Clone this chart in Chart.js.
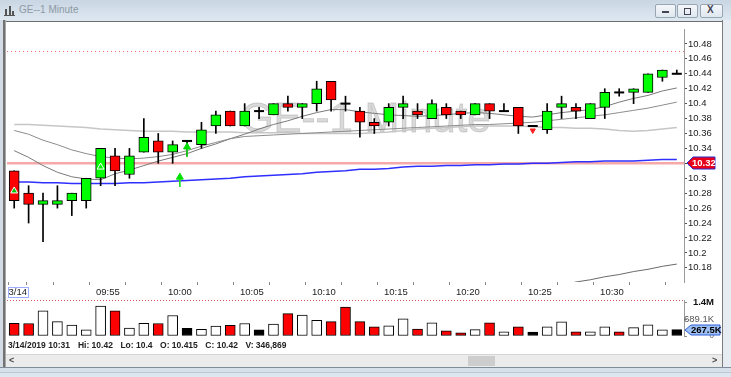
<!DOCTYPE html>
<html>
<head>
<meta charset="utf-8">
<script src="https://cdn.jsdelivr.net/npm/chart.js@4.4.1/dist/chart.umd.min.js"></script>
<style>
  body { margin: 0; background: #fff; font-family: "Liberation Sans", Arial, sans-serif; }
  #win { position: relative; width: 731px; height: 377px; overflow: hidden; background: #dde5ee; }
  #title { position: absolute; left: 0; top: 0; width: 731px; height: 20px; background: linear-gradient(#c9d6e3, #dde7f0); }
  #title span { position: absolute; left: 19px; top: 4px; font-size: 10px; color: #8d99a5; }
  #ico { position: absolute; left: 4px; top: 5px; width: 11px; height: 10px; border-bottom: 1px solid #555; }
  #ico i { position: absolute; bottom: 0; width: 2px; background: #555; }
  .btn { position: absolute; top: 4px; width: 19px; height: 12px; border: 1px solid #98a6b4; border-radius: 2px; background: linear-gradient(#f4f7fa, #dfe7ef); }
  .btn b { position: absolute; }
  #lb { position: absolute; left: 0; top: 20px; width: 6px; height: 357px; background: linear-gradient(to right, #d3dce6 0 3px, #737373 3px 5px, #a8a8a8 5px 6px); }
  #panel { position: absolute; left: 6px; top: 21px; width: 716px; height: 333px; background: #fff; border-top: 1px solid #6f6f6f; }
  #rb { position: absolute; left: 722px; top: 20px; width: 9px; height: 357px; background: linear-gradient(to right, #7a7a7a 0 1px, #e6ecf2 1px); }
  #status { position: absolute; left: 8px; top: 340px; font-size: 8.5px; font-weight: bold; color: #222; white-space: nowrap; }
  #status span { margin-right: 7.5px; }
  #scroll { position: absolute; left: 6px; top: 354px; width: 716px; height: 12px; background: #ebebeb; border-top: 1px solid #d4d4d4; }
  #thumb { position: absolute; left: 462px; top: 1px; width: 27px; height: 10px; background: #cdcdcd; }
  .arr { position: absolute; top: 0; font-size: 9px; font-weight: bold; color: #444; }
  #bf { position: absolute; left: 0; top: 367px; width: 731px; height: 10px; background: linear-gradient(#7f8d9b 0 1px, #d7e0ea 1px 5px, #b9c6d3 5px 6px, #dde5ee 6px); }
  canvas { position: absolute; left: 0; }
</style>
</head>
<body>
<div id="win">
  <div id="title">
    <div id="ico"><i style="left:1px;height:6px"></i><i style="left:5px;height:9px"></i><i style="left:8px;height:4px"></i></div>
    <span>GE--1 Minute</span>
    <div class="btn" style="left:655px"><b style="left:6px;top:6px;width:7px;height:2px;background:#445"></b></div>
    <div class="btn" style="left:677px"><b style="left:6px;top:3px;width:5px;height:5px;border:1px solid #445"></b></div>
    <div class="btn" style="left:700px;width:21px"><b style="left:6px;top:-1px;font-size:10px;color:#445">X</b></div>
  </div>
  <div id="lb"></div>
  <div id="panel"></div>
  <div id="rb"></div>
  <canvas id="price" width="731" height="278" style="top:22px"></canvas>
  <canvas id="vol" width="731" height="46" style="top:294px"></canvas>
  <div id="status"></div>
  <div id="scroll"><div id="thumb"></div><span class="arr" style="left:3px">&lt;</span><span class="arr" style="left:706px">&gt;</span></div>
  <div id="bf"></div>
</div>
<script>
const FONT = '"Liberation Sans", Arial, sans-serif';
Chart.defaults.font.family = FONT;

// one-minute bars, 3/14/2019
const times = ['09:48','09:49','09:50','09:51','09:52','09:53','09:54','09:55','09:56','09:57','09:58','09:59',
  '10:00','10:01','10:02','10:03','10:04','10:05','10:06','10:07','10:08','10:09','10:10','10:11','10:12','10:13',
  '10:14','10:15','10:16','10:17','10:18','10:19','10:20','10:21','10:22','10:23','10:24','10:25','10:26','10:27',
  '10:28','10:29','10:30','10:31','10:32','10:33','10:34'];
const opens = [10.31,10.28,10.265,10.265,10.27,10.27,10.30,10.33,10.305,10.335,10.35,10.335,10.35,10.345,10.37,10.39,
  10.37,10.39,10.385,10.40,10.395,10.40,10.43,10.40,10.39,10.375,10.375,10.395,10.39,10.38,10.395,10.39,10.385,10.40,
  10.39,10.395,10.37,10.365,10.395,10.395,10.38,10.395,10.415,10.415,10.415,10.435,10.44];
const highs = [10.31,10.29,10.28,10.29,10.28,10.30,10.34,10.34,10.34,10.38,10.36,10.35,10.35,10.375,10.39,10.39,
  10.40,10.395,10.40,10.41,10.40,10.43,10.43,10.41,10.395,10.38,10.40,10.41,10.40,10.405,10.40,10.39,10.40,10.40,
  10.40,10.395,10.37,10.40,10.41,10.40,10.40,10.42,10.42,10.42,10.44,10.445,10.445];
const lows = [10.26,10.24,10.215,10.26,10.25,10.26,10.29,10.29,10.30,10.335,10.32,10.32,10.33,10.34,10.36,10.37,
  10.37,10.38,10.385,10.39,10.38,10.39,10.39,10.39,10.355,10.36,10.37,10.38,10.38,10.38,10.38,10.38,10.385,10.38,
  10.39,10.36,10.37,10.36,10.38,10.38,10.38,10.38,10.41,10.40,10.415,10.43,10.44];
const closes = [10.27,10.265,10.27,10.27,10.28,10.30,10.34,10.31,10.33,10.355,10.335,10.345,10.35,10.365,10.385,10.37,
  10.39,10.39,10.40,10.395,10.40,10.42,10.405,10.40,10.375,10.37,10.395,10.40,10.385,10.40,10.385,10.385,10.40,10.39,
  10.39,10.37,10.37,10.39,10.40,10.39,10.40,10.415,10.415,10.42,10.44,10.445,10.44];
const volumes = [533000,520000,1050000,600000,452000,252000,1250000,1050000,332000,533000,520000,853000,320000,280000,
  413000,440000,520000,252000,493000,933000,867000,653000,600000,1210000,600000,387000,427000,720000,293000,547000,
  213000,133000,267000,547000,173000,387000,160000,387000,587000,173000,173000,387000,173000,346869,467000,253000,267500];
const volDir = ['down','down','up','up','up','up','up','down','up','up','down','up','flat','up','up','down','up','flat',
  'up','down','up','up','down','down','down','down','up','up','down','up','down','down','up','down','up','down','flat',
  'up','up','down','up','up','down','up','up','up','flat'];

// indicator lines
const maFast = [10.337,10.328,10.317,10.308,10.302,10.299,10.298,10.306,10.311,10.317,10.323,10.328,10.333,10.340,
  10.346,10.353,10.359,10.366,10.372,10.377,10.383,10.388,10.392,10.392,10.389,10.387,10.385,10.384,10.383,10.384,
  10.385,10.387,10.388,10.387,10.385,10.383,10.382,10.385,10.388,10.390,10.392,10.396,10.402,10.407,10.411,10.417,10.421];
const maMid = [10.364,10.359,10.351,10.345,10.338,10.333,10.329,10.327,10.326,10.327,10.329,10.332,10.337,10.343,
  10.348,10.353,10.356,10.357,10.358,10.359,10.360,10.361,10.362,10.363,10.364,10.365,10.366,10.367,10.368,10.369,
  10.370,10.371,10.372,10.372,10.373,10.374,10.375,10.377,10.379,10.381,10.383,10.385,10.388,10.391,10.394,10.398,10.402];
const maSlow = [10.372,10.372,10.371,10.370,10.369,10.368,10.366,10.365,10.364,10.363,10.363,10.363,10.362,10.362,
  10.362,10.362,10.361,10.361,10.361,10.361,10.360,10.360,10.360,10.360,10.360,10.361,10.362,10.364,10.366,10.367,
  10.368,10.369,10.370,10.370,10.370,10.370,10.369,10.368,10.368,10.367,10.367,10.366,10.364,10.363,10.364,10.366,10.368];
const lowBand = Array(38).fill(null).concat([10.157,10.161,10.164,10.168,10.171,10.175,10.178,10.182,10.185]);
const vwap = [10.295,10.295,10.294,10.294,10.293,10.293,10.293,10.293,10.294,10.294,10.295,10.296,10.297,10.298,
  10.299,10.300,10.302,10.303,10.304,10.305,10.306,10.308,10.309,10.310,10.312,10.312,10.313,10.315,10.316,10.316,
  10.317,10.317,10.318,10.318,10.319,10.319,10.320,10.320,10.321,10.322,10.322,10.323,10.323,10.323,10.324,10.325,10.325];
const refLevel = 10.32;
const alertLevel = 10.47;

// signal markers
const sigX = [0, 6, 11.5, 12, 36];
const sigY = [10.283, 10.315, 10.3015, 10.342, 10.364];
const sigKind = ['buy', 'hollow', 'arrow', 'arrow', 'sell'];
const stemLow = [null, null, 10.2887, 10.329, null];

// axes
const priceTicks = [10.18,10.2,10.22,10.24,10.26,10.28,10.3,10.32,10.34,10.36,10.38,10.4,10.42,10.44,10.46,10.48];
const timeTickLabels = ['09:55','10:00','10:05','10:10','10:15','10:20','10:25','10:30'];
const dateLabel = '3/14';
const volTicks = [0, 689100, 1400000];
const volTickLabels = ['0', '689.1K', '1.4M'];

const idx = times.map((t, i) => i);
const pts = arr => arr.map((v, i) => ({x: i, y: v}));
const timeTickPos = timeTickLabels.map(t => times.indexOf(t) - 0.5);
const xTicks = [{value: 0.25, label: dateLabel}];
for (let v = 1.5; v < 46.5; v += 2.5) {
  const k = timeTickPos.indexOf(v);
  xTicks.push({value: v, label: k >= 0 ? timeTickLabels[k] : ''});
}

const GREEN = '#00ff00', RED = '#ff0000';
const wickData = idx.map(i => ({x: i, y: [lows[i], highs[i]]}));
const bodyData = idx.filter(i => opens[i] !== closes[i])
  .map(i => ({x: i, y: [Math.min(opens[i], closes[i]), Math.max(opens[i], closes[i])]}));
const dojiData = idx.filter(i => opens[i] === closes[i]).map(i => ({x: i, y: opens[i]}));
const stemData = sigX.map((x, k) => stemLow[k] === null ? null : {x: x, y: [stemLow[k], sigY[k]]}).filter(d => d);
const sigData = sigX.map((x, k) => ({x: x, y: sigY[k]}));

const xScale = {
  type: 'linear', min: -0.5, max: 46.5, offset: false
};

const priceDecor = {
  id: 'priceDecor',
  beforeDatasetsDraw(chart) {
    const {ctx, chartArea: a, scales: {y}} = chart;
    ctx.save();
    ctx.font = '42px ' + FONT;
    ctx.textAlign = 'center';
    ctx.fillStyle = 'rgba(205,205,205,0.75)';
    ctx.strokeStyle = 'rgba(150,150,150,0.4)';
    ctx.lineWidth = 0.8;
    ctx.fillText('GE--1 Minute', a.left + a.width * 0.53, 110);
    ctx.strokeText('GE--1 Minute', a.left + a.width * 0.53, 110);
    let py = y.getPixelForValue(refLevel);
    ctx.strokeStyle = '#f6a9a9';
    ctx.lineWidth = 2.5;
    ctx.beginPath(); ctx.moveTo(a.left, py); ctx.lineTo(a.right, py); ctx.stroke();
    py = Math.round(y.getPixelForValue(alertLevel)) + 0.5;
    ctx.strokeStyle = '#f07070';
    ctx.lineWidth = 1;
    ctx.setLineDash([1, 3]);
    ctx.beginPath(); ctx.moveTo(a.left, py); ctx.lineTo(a.right, py); ctx.stroke();
    ctx.restore();
  },
  afterDraw(chart) {
    const {ctx, chartArea: a, scales: {x, y}} = chart;
    ctx.save();
    const py = Math.round(y.getPixelForValue(refLevel));
    const x0 = a.right + 3;
    ctx.beginPath();
    ctx.moveTo(x0, py);
    ctx.lineTo(x0 + 6, py - 6);
    ctx.lineTo(x0 + 28, py - 6);
    ctx.lineTo(x0 + 28, py + 6);
    ctx.lineTo(x0 + 6, py + 6);
    ctx.closePath();
    ctx.fillStyle = '#e8001a';
    ctx.fill();
    ctx.strokeStyle = '#2a2ad0';
    ctx.lineWidth = 1;
    ctx.stroke();
    ctx.fillStyle = '#fff';
    ctx.font = 'bold 9.5px ' + FONT;
    ctx.textAlign = 'left';
    ctx.textBaseline = 'middle';
    ctx.fillText(String(refLevel), x0 + 5, py + 0.5);
    // dotted frame round the date label
    const dx = x.getPixelForValue(xTicks[0].value);
    ctx.setLineDash([1, 1]);
    ctx.strokeStyle = '#3b5bff';
    ctx.strokeRect(Math.round(dx - 10) + 0.5, a.bottom + 5.5, 20, 10);
    ctx.restore();
  }
};

new Chart(document.getElementById('price'), {
  type: 'bar',
  data: {
    datasets: [
      {type: 'line', data: pts(maSlow), borderColor: '#c6c6c6', borderWidth: 1.5, pointRadius: 0, order: 9},
      {type: 'line', data: pts(maMid), borderColor: '#8c8c8c', borderWidth: 1, pointRadius: 0, order: 8},
      {type: 'line', data: pts(maFast), borderColor: '#7a7a7a', borderWidth: 1, pointRadius: 0, order: 8},
      {type: 'line', data: pts(lowBand), borderColor: '#6a6a6a', borderWidth: 1, pointRadius: 0, order: 8},
      {type: 'line', data: pts(vwap), borderColor: '#2f2fff', borderWidth: 1.5, pointRadius: 0, order: 7},
      {data: wickData, backgroundColor: '#000', barThickness: 1, grouped: false, order: 5},
      {data: bodyData, grouped: false, barThickness: 10, borderWidth: 1, borderColor: '#000', borderSkipped: false,
       backgroundColor: c => closes[c.raw.x] > opens[c.raw.x] ? GREEN : RED, order: 4},
      {type: 'line', data: dojiData, showLine: false, pointStyle: 'line', pointRadius: 5, borderWidth: 2,
       borderColor: '#000', order: 3},
      {data: stemData, backgroundColor: '#22dd22', barThickness: 1, grouped: false, order: 2},
      {type: 'line', data: sigData, showLine: false, order: 1,
       pointStyle: 'triangle',
       pointRadius: c => sigKind[c.dataIndex] === 'sell' ? 3 : 4,
       rotation: c => sigKind[c.dataIndex] === 'sell' ? 180 : 0,
       backgroundColor: c => ({buy: '#00c800', hollow: 'rgba(0,0,0,0)', arrow: '#00e000', sell: '#ff2020'})[sigKind[c.dataIndex]],
       borderColor: c => ({buy: '#ffffff', hollow: '#ffffff', arrow: '#00e000', sell: '#ff2020'})[sigKind[c.dataIndex]],
       borderWidth: 1}
    ]
  },
  options: {
    responsive: false,
    animation: false,
    layout: {padding: {left: 7, right: 0, top: 0, bottom: 0}},
    plugins: {legend: {display: false}, tooltip: {enabled: false}},
    scales: {
      x: Object.assign({}, xScale, {
        afterBuildTicks: s => { s.ticks = xTicks.map(t => ({value: t.value})); },
        afterFit: s => { s.height = 18; s.paddingLeft = 0; s.paddingRight = 0; },
        grid: {drawOnChartArea: false, drawTicks: true, tickLength: 3, color: '#8a8a8a'},
        border: {display: false},
        ticks: {autoSkip: false, maxRotation: 0, padding: 2, color: '#222', font: {size: 9.5},
          callback: v => (xTicks.find(t => t.value === v) || {label: ''}).label}
      }),
      y: {
        position: 'right', min: 10.161, max: 10.50,
        afterBuildTicks: s => { s.ticks = priceTicks.map(v => ({value: v})); },
        afterFit: s => { s.width = 47; s.paddingTop = 0; s.paddingBottom = 0; },
        grid: {drawOnChartArea: false, tickLength: 3, color: '#555'},
        border: {display: true, color: '#9a9a9a'},
        ticks: {padding: 1, color: '#1a1a1a', font: {size: 9.5}, callback: v => String(Number(v.toFixed(2)))}
      }
    }
  },
  plugins: [priceDecor]
});

const volDecor = {
  id: 'volDecor',
  beforeDatasetsDraw(chart) {
    const {ctx, chartArea: a} = chart;
    ctx.save();
    ctx.strokeStyle = '#e05050';
    ctx.setLineDash([1, 2]);
    ctx.beginPath(); ctx.moveTo(a.left, a.top + 0.5); ctx.lineTo(a.right, a.top + 0.5); ctx.stroke();
    ctx.restore();
  },
  afterDraw(chart) {
    const {ctx, chartArea: a, scales: {y}} = chart;
    const last = volumes[volumes.length - 1];
    const py = Math.round(y.getPixelForValue(last));
    const x0 = a.right + 1;
    ctx.save();
    ctx.beginPath();
    ctx.moveTo(x0, py);
    ctx.lineTo(x0 + 6, py - 5);
    ctx.lineTo(x0 + 35, py - 5);
    ctx.lineTo(x0 + 35, py + 5);
    ctx.lineTo(x0 + 6, py + 5);
    ctx.closePath();
    ctx.fillStyle = '#9fc0f4';
    ctx.fill();
    ctx.strokeStyle = '#2f5fd8';
    ctx.stroke();
    ctx.fillStyle = '#000';
    ctx.font = 'bold 9.5px ' + FONT;
    ctx.textBaseline = 'middle';
    ctx.fillText((last / 1000).toFixed(1) + 'K', x0 + 6, py + 0.5);
    ctx.restore();
  }
};

new Chart(document.getElementById('vol'), {
  type: 'bar',
  data: {
    datasets: [{
      data: volumes.map((v, i) => ({x: i, y: v})),
      barThickness: 10, borderWidth: 1, borderColor: '#000', borderSkipped: false,
      backgroundColor: c => ({up: '#ffffff', down: '#ff0000', flat: '#000000'})[volDir[c.dataIndex]]
    }]
  },
  options: {
    responsive: false,
    animation: false,
    layout: {padding: {left: 7, right: 17, top: 6, bottom: 4}},
    plugins: {legend: {display: false}, tooltip: {enabled: false}},
    scales: {
      x: Object.assign({}, xScale, {display: false}),
      y: {
        position: 'right', min: 0, max: 1500000,
        afterBuildTicks: s => { s.ticks = volTicks.map(v => ({value: v})); },
        afterFit: s => { s.width = 30; s.paddingTop = 0; s.paddingBottom = 0; },
        grid: {drawOnChartArea: false, tickLength: 3, color: '#888'},
        border: {display: true, color: '#9a9a9a'},
        ticks: {padding: 0, crossAlign: 'far',
          color: c => c.index === 2 ? '#111' : '#555',
          font: c => ({size: c.index === 0 ? 8 : 9.5, weight: c.index === 2 ? 'bold' : 'normal'}),
          callback: (v, i) => volTickLabels[i]}
      }
    }
  },
  plugins: [volDecor]
});

// status line for the 10:31 bar
const s = times.indexOf('10:31');
const parts = ['3/14/2019 ' + times[s], 'Hi: ' + highs[s], 'Lo: ' + lows[s], 'O: ' + opens[s], 'C: ' + closes[s],
  'V: ' + volumes[s].toLocaleString('en-US')];
document.getElementById('status').innerHTML =
  parts.map((p, k) => '<span' + (k === 0 ? ' style="margin-right:8px"' : '') + '>' + p + '</span>').join('');
</script>
</body>
</html>
